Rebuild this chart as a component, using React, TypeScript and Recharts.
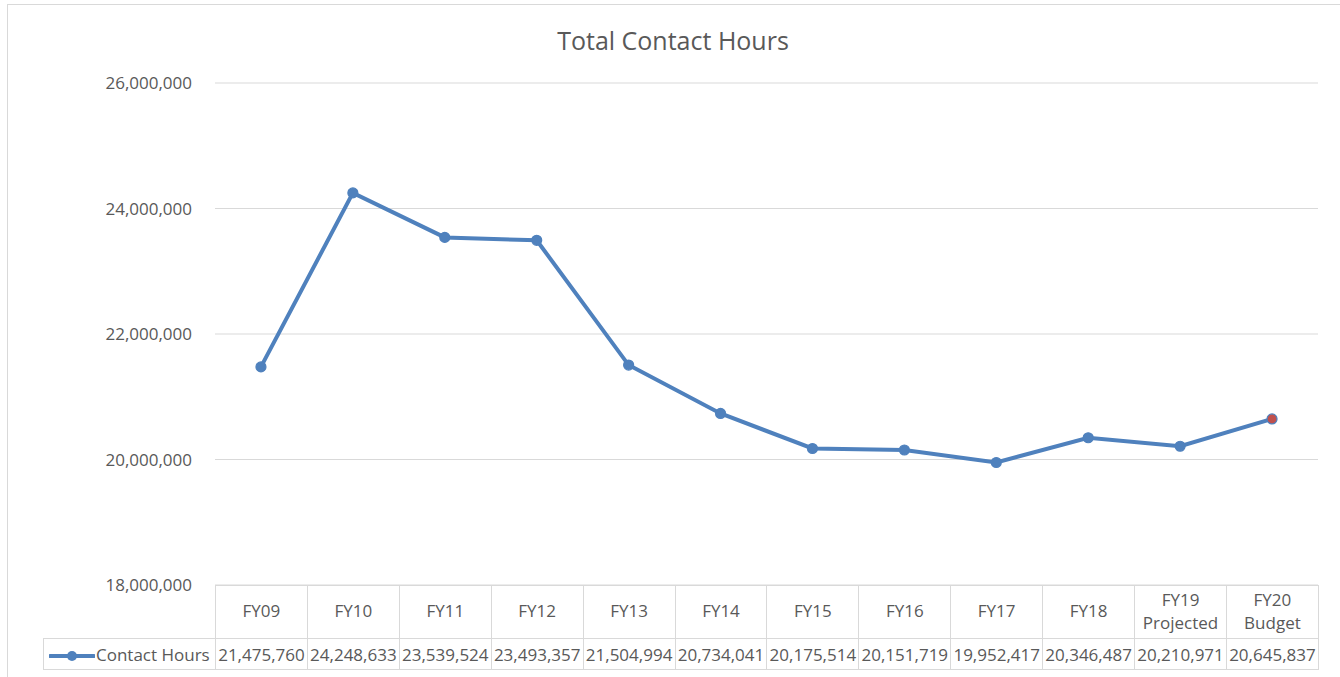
import React from 'react'
import { LineChart, Line, XAxis, YAxis, CartesianGrid } from 'recharts'

const categories = ['FY09', 'FY10', 'FY11', 'FY12', 'FY13', 'FY14', 'FY15', 'FY16', 'FY17', 'FY18', 'FY19\nProjected', 'FY20\nBudget']
const contactHours = [21475760, 24248633, 23539524, 23493357, 21504994, 20734041, 20175514, 20151719, 19952417, 20346487, 20210971, 20645837]
const yTicks = [18000000, 20000000, 22000000, 24000000, 26000000]
const seriesName = 'Contact Hours'

const BLUE = '#4f81bd'
const RED = '#c0504d'
const GRID = '#d9d9d9'
const TEXT = '#595959'
const FONT = '"Open Sans", "Noto Sans", sans-serif'

const fmt = (v: number) => v.toLocaleString('en-US')

const data = categories.map((c, i) => ({ cat: c, value: contactHours[i] }))

const renderDot = (props: any) => {
  const { cx, cy, index } = props
  const last = index === contactHours.length - 1
  return (
    <circle
      key={`dot-${index}`}
      cx={cx}
      cy={cy}
      r={5}
      fill={last ? RED : BLUE}
      stroke={BLUE}
      strokeWidth={1.2}
    />
  )
}

export default function App() {
  const plotLeft = 215
  const plotRight = 1318
  const colW = (plotRight - plotLeft) / categories.length

  const cell: React.CSSProperties = {
    border: `1px solid ${GRID}`,
    padding: 0,
    textAlign: 'center',
    color: TEXT,
    fontSize: 17,
    whiteSpace: 'pre-line',
    lineHeight: '23px',
  }

  return (
    <div style={{ position: 'absolute', left: 0, top: 0, width: 1340, height: 677, overflow: 'hidden', background: '#fff', fontFamily: FONT }}>
      <div style={{ position: 'absolute', left: 7, top: 4, width: 1400, height: 700, border: `1px solid ${GRID}`, boxSizing: 'border-box' }} />
      <div style={{ position: 'absolute', left: 0, top: 23, width: 1346, textAlign: 'center', fontSize: 25, color: TEXT }}>
        Total Contact Hours
      </div>
      <div style={{ position: 'absolute', left: 0, top: 0 }}>
        <LineChart width={1340} height={677} data={data} margin={{ top: 83, right: 1340 - plotRight, bottom: 677 - 585, left: plotLeft - 120 }}>
          <CartesianGrid horizontal vertical={false} stroke={GRID} strokeWidth={1} />
          <XAxis dataKey="cat" hide padding={{ left: colW / 2, right: colW / 2 }} />
          <YAxis
            width={120}
            domain={[18000000, 26000000]}
            ticks={yTicks}
            tickFormatter={fmt}
            tickLine={false}
            axisLine={false}
            tickSize={0}
            tickMargin={23}
            tick={{ fontSize: 17, fill: TEXT, fontFamily: FONT }}
          />
          <Line
            type="linear"
            dataKey="value"
            stroke={BLUE}
            strokeWidth={4}
            dot={renderDot}
            activeDot={false}
            isAnimationActive={false}
          />
        </LineChart>
      </div>
      <table
        style={{
          position: 'absolute',
          left: 43,
          top: 585,
          borderCollapse: 'collapse',
          tableLayout: 'fixed',
          width: plotRight - 43,
          fontFamily: FONT,
        }}
      >
        <colgroup>
          <col style={{ width: plotLeft - 43 }} />
          {categories.map((c) => (
            <col key={c} style={{ width: colW }} />
          ))}
        </colgroup>
        <tbody>
          <tr style={{ height: 53 }}>
            <td style={{ ...cell, border: 'none', borderRight: `1px solid ${GRID}`, borderBottom: `1px solid ${GRID}` }} />
            {categories.map((c) => (
              <td key={c} style={{ ...cell, paddingBottom: 3 }}>{c}</td>
            ))}
          </tr>
          <tr style={{ height: 31 }}>
            <td style={{ ...cell, textAlign: 'left', whiteSpace: 'nowrap' }}>
              <svg width={46} height={12} style={{ verticalAlign: 'middle', marginLeft: 5, marginRight: 1 }}>
                <line x1={1} y1={6} x2={45} y2={6} stroke={BLUE} strokeWidth={4} strokeLinecap="round" />
                <circle cx={23} cy={6} r={5} fill={BLUE} />
              </svg>
              {seriesName}
            </td>
            {contactHours.map((v, i) => (
              <td key={i} style={cell}>{fmt(v)}</td>
            ))}
          </tr>
        </tbody>
      </table>
    </div>
  )
}
